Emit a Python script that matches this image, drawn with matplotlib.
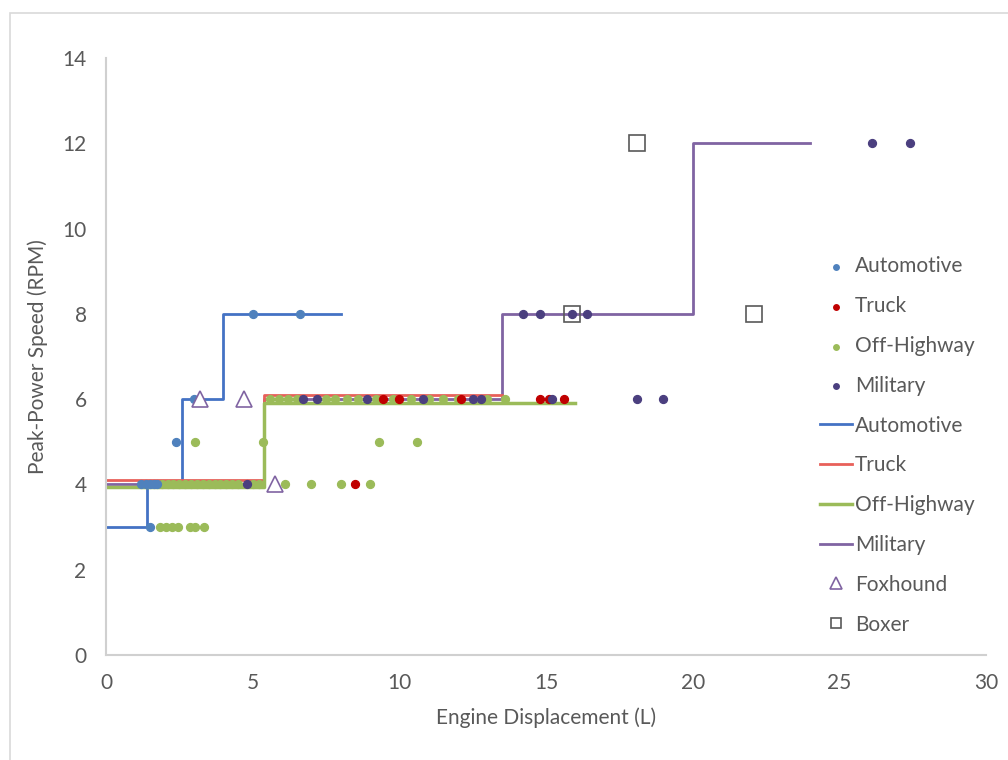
import matplotlib
matplotlib.use("Agg")
import matplotlib.pyplot as plt
from matplotlib.patches import Rectangle

plt.rcParams['font.family'] = ['Lato', 'DejaVu Sans']

# Scatter data (displacement L, peak-power speed)
auto_x = [1.2, 1.35, 1.5, 1.65, 1.75, 1.5, 2.4, 3.0, 5.0, 6.6]
auto_y = [4, 4, 4, 4, 4, 3, 5, 6, 8, 8]

truck_x = [8.5, 9.45, 10.0, 12.1, 14.8, 15.1, 15.6]
truck_y = [4, 6, 6, 6, 6, 6, 6]

offhw_x = [1.85, 2.05, 2.25, 2.45, 2.85, 3.05, 3.35,
           3.05, 5.35, 9.3, 10.6,
           1.9, 2.1, 2.3, 2.5, 2.7, 2.9, 3.1, 3.3, 3.5, 3.7, 3.9, 4.1, 4.3, 4.5, 5.0, 5.2,
           6.1, 7.0, 8.0, 9.0,
           5.6, 5.9, 6.2, 6.5, 7.5, 7.8, 8.2, 8.6, 9.2, 9.8, 10.4, 11.0, 11.5, 12.0, 13.0, 13.6]
offhw_y = [3, 3, 3, 3, 3, 3, 3,
           5, 5, 5, 5,
           4, 4, 4, 4, 4, 4, 4, 4, 4, 4, 4, 4, 4, 4, 4, 4,
           4, 4, 4, 4,
           6, 6, 6, 6, 6, 6, 6, 6, 6, 6, 6, 6, 6, 6, 6, 6]

mil_x = [4.8, 6.7, 7.2, 8.9, 10.8, 12.5, 12.8, 15.2, 18.1, 19.0, 14.2, 14.8, 15.9, 16.4, 26.1, 27.4]
mil_y = [4, 6, 6, 6, 6, 6, 6, 6, 6, 6, 8, 8, 8, 8, 12, 12]

# Step trend lines
auto_step_x = [0, 1.4, 2.6, 4.0, 8.0]
auto_step_y = [3, 4, 6, 8, 8]
truck_step_x = [0, 5.4, 13.5]
truck_step_y = [4.1, 6.1, 6.1]
offhw_step_x = [0, 5.4, 16.0]
offhw_step_y = [3.95, 5.92, 5.92]
mil_step_x = [0, 5.4, 13.5, 20.0, 24.0]
mil_step_y = [4, 6, 8, 12, 12]

fox_x = [3.2, 4.7, 5.75]
fox_y = [6, 6, 4]
boxer_x = [18.1, 15.9, 22.1]
boxer_y = [12, 8, 8]

FS = 15
GREY = '#595959'

fig = plt.figure(figsize=(10.08, 7.6), dpi=100)
fig.patches.append(Rectangle((10 / 1008, -0.1), 1.2, (760 - 13) / 760 + 0.1,
                             transform=fig.transFigure, fill=False,
                             edgecolor='#D9D9D9', lw=1.2))
ax = fig.add_axes([106 / 1008, 105 / 760, 880 / 1008, 597 / 760])

h_auto = ax.scatter(auto_x, auto_y, s=32, color='#4F81BD', zorder=4, label='Automotive')
h_truck = ax.scatter(truck_x, truck_y, s=32, color='#C00000', zorder=4, label='Truck')
h_off = ax.scatter(offhw_x, offhw_y, s=32, color='#9BBB59', zorder=3, label='Off-Highway')
h_mil = ax.scatter(mil_x, mil_y, s=32, color='#4B3F7F', zorder=4, label='Military')

l_auto, = ax.step(auto_step_x, auto_step_y, where='post', color='#4472C4', lw=2, zorder=2, label='Automotive')
l_truck, = ax.step(truck_step_x, truck_step_y, where='post', color='#E8605A', lw=2, zorder=2, label='Truck')
l_off, = ax.step(offhw_step_x, offhw_step_y, where='post', color='#9BBB59', lw=2.5, zorder=2, label='Off-Highway')
l_mil, = ax.step(mil_step_x, mil_step_y, where='post', color='#8064A2', lw=2, zorder=1, label='Military')

h_fox, = ax.plot(fox_x, fox_y, ls='none', marker='^', ms=12, mfc='white', mec='#8064A2',
                 mew=1.2, zorder=5, label='Foxhound')
h_box, = ax.plot(boxer_x, boxer_y, ls='none', marker='s', ms=11, mfc='none', mec=GREY,
                 mew=1.2, zorder=5, label='Boxer')

ax.set_xlim(0, 30)
ax.set_ylim(0, 14)
ax.set_xticks(range(0, 31, 5))
ax.set_yticks(range(0, 15, 2))
ax.tick_params(length=0, labelsize=FS, labelcolor=GREY)
ax.tick_params(axis='x', pad=13)
ax.tick_params(axis='y', pad=14)
for side in ['top', 'right']:
    ax.spines[side].set_visible(False)
for side in ['left', 'bottom']:
    ax.spines[side].set_color('#D0D0D0')
    ax.spines[side].set_linewidth(1.5)

ax.set_xlabel('Engine Displacement (L)', fontsize=FS, color=GREY, labelpad=10)
ax.set_ylabel('Peak-Power Speed (RPM)', fontsize=FS, color=GREY, labelpad=10)

leg = ax.legend(handles=[h_auto, h_truck, h_off, h_mil, l_auto, l_truck, l_off, l_mil, h_fox, h_box],
                loc='center left', bbox_to_anchor=(0.811, 0.351), frameon=False,
                fontsize=FS, labelspacing=0.95, handlelength=1.55, handletextpad=0.15,
                borderpad=0, borderaxespad=0, markerscale=0.7)
for t in leg.get_texts():
    t.set_color(GREY)

fig.savefig('out.png', dpi=100)
